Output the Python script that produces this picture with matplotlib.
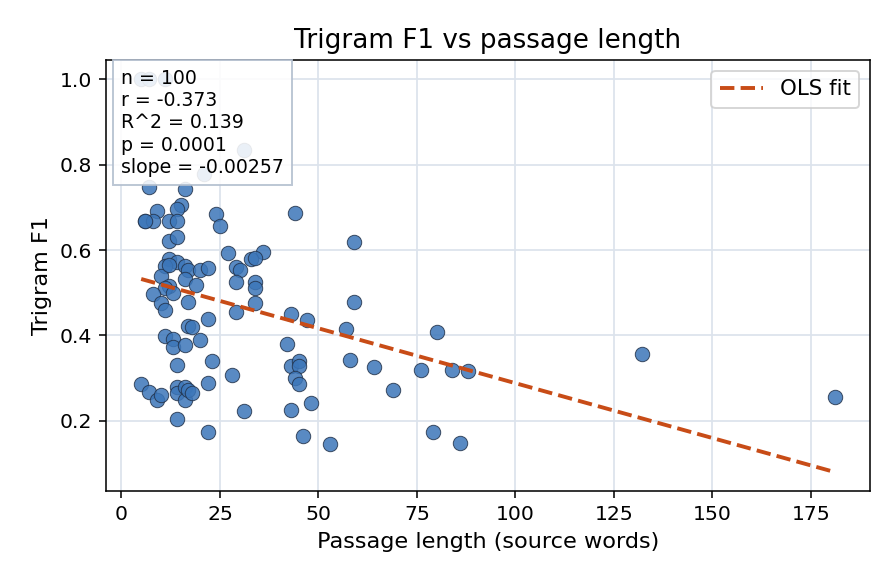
import numpy as np
import matplotlib
matplotlib.use("Agg")
import matplotlib.pyplot as plt

# passage length (source words) and trigram F1
longueurs = [5, 7, 11, 31, 21, 7, 16, 15, 14, 9,
             6, 8, 12, 14, 24, 25, 44, 12, 14, 27,
             36, 33, 34, 59, 12, 14, 11, 16, 17, 20,
             22, 29, 30, 10, 16, 12, 11, 13, 8, 19,
             29, 34, 34, 10, 11, 17, 29, 34, 22, 17,
             18, 11, 13, 13, 16, 20, 14, 23, 28, 5,
             7, 9, 10, 14, 14, 16, 16, 17, 18, 22,
             14, 22, 31, 59, 43, 47, 57, 80, 42, 43,
             45, 45, 44, 45, 58, 64, 76, 84, 88, 69,
             48, 43, 46, 53, 79, 86, 132, 181, 6, 12]
f1 = [1.00, 1.00, 1.00, 0.835, 0.779, 0.747, 0.743, 0.705, 0.696, 0.692,
      0.667, 0.667, 0.667, 0.667, 0.684, 0.656, 0.686, 0.622, 0.631, 0.592,
      0.595, 0.578, 0.582, 0.620, 0.578, 0.572, 0.562, 0.562, 0.553, 0.553,
      0.558, 0.560, 0.553, 0.539, 0.531, 0.515, 0.511, 0.500, 0.498, 0.517,
      0.525, 0.525, 0.510, 0.476, 0.460, 0.478, 0.455, 0.475, 0.439, 0.421,
      0.419, 0.399, 0.391, 0.372, 0.378, 0.390, 0.331, 0.339, 0.308, 0.285,
      0.267, 0.249, 0.260, 0.278, 0.266, 0.280, 0.249, 0.272, 0.266, 0.289,
      0.205, 0.174, 0.223, 0.478, 0.449, 0.435, 0.415, 0.407, 0.380, 0.329,
      0.340, 0.329, 0.301, 0.287, 0.343, 0.325, 0.319, 0.319, 0.317, 0.271,
      0.242, 0.224, 0.164, 0.145, 0.174, 0.148, 0.357, 0.255, 0.667, 0.565]

pente = -0.00257
ordonnee = 0.545
stats = ["n = 100", "r = -0.373", "R^2 = 0.139", "p = 0.0001", "slope = -0.00257"]

fig = plt.figure(figsize=(6.4, 584 / 140), dpi=140)
ax = fig.add_axes([0.118, 0.159, 0.853, 0.738])

ax.set_axisbelow(True)
ax.grid(True, color="#dce3ec", linewidth=0.9)

ax.scatter(longueurs, f1, s=55, color="#3c76b9", alpha=0.85,
           edgecolors="#22324a", linewidths=0.5, zorder=3)

xs = np.array([min(longueurs), max(longueurs)])
ax.plot(xs, ordonnee + pente * xs, "--", color="#c84c17", lw=2.0,
        label="OLS fit", zorder=4)

ax.text(0.02, 0.98, "\n".join(stats), transform=ax.transAxes, va="top",
        ha="left", fontsize=9.7, linespacing=1.22, zorder=5,
        bbox=dict(boxstyle="square,pad=0.45", facecolor="white",
                  edgecolor="#b3bfcf", alpha=0.88))

ax.set_xlim(-4, 190)
ax.set_ylim(0.035, 1.045)
ax.set_xticks([0, 25, 50, 75, 100, 125, 150, 175])
ax.set_yticks([0.2, 0.4, 0.6, 0.8, 1.0])
ax.tick_params(labelsize=10.5)
ax.set_xlabel("Passage length (source words)", fontsize=11.5)
ax.set_ylabel("Trigram F1", fontsize=11.5)
ax.set_title("Trigram F1 vs passage length", fontsize=13.5)
ax.legend(loc="upper right", fontsize=11)

fig.savefig("out.png", dpi=140)
